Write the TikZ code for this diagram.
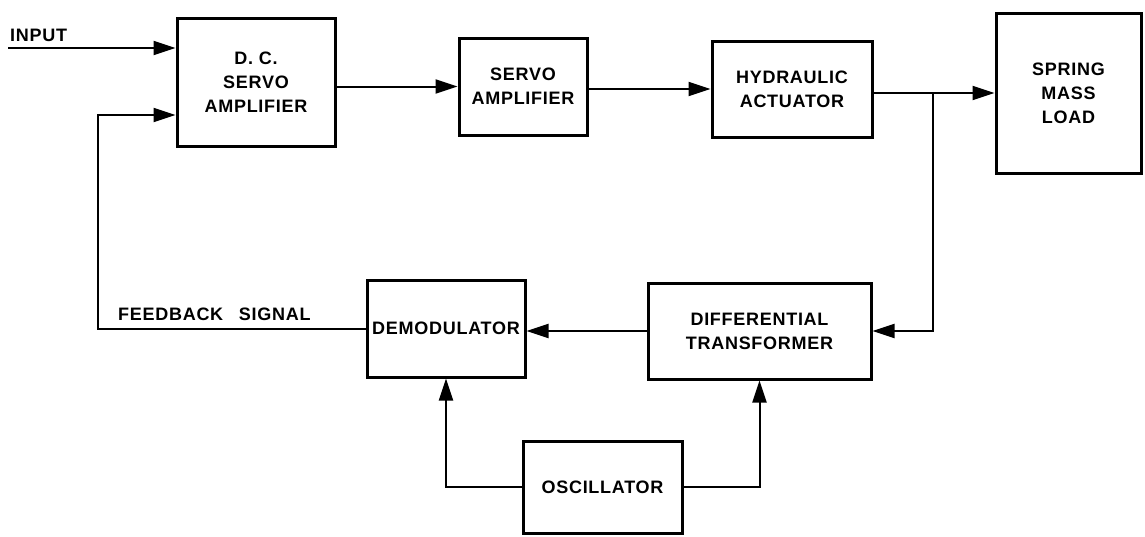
\documentclass[tikz,border=0pt]{standalone}
\usepackage{fontspec}
\setmainfont{Liberation Sans}[LetterSpace=4]
\usetikzlibrary{arrows.meta}
\tikzset{
  blk/.style={draw, line width=3pt, align=center, inner sep=0pt,
    font=\bfseries\fontsize{18}{24}\selectfont},
  arr/.style={line width=2pt, -{Triangle[length=22pt,width=14pt]}},
  lbl/.style={font=\bfseries\fontsize{18}{24}\selectfont, inner sep=0pt}
}
\begin{document}
\begin{tikzpicture}[x=1pt,y=-1pt]
\useasboundingbox (0,0) rectangle (1145,536);
\node[blk, minimum width=158pt, minimum height=128pt] (dc) at (256,82) {D. C.\\SERVO\\AMPLIFIER};
\node[blk, minimum width=128pt, minimum height=97pt] (servo) at (523,86.5) {SERVO\\AMPLIFIER};
\node[blk, minimum width=160pt, minimum height=96pt] (hyd) at (792,89) {HYDRAULIC\\ACTUATOR};
\node[blk, minimum width=145pt, minimum height=160pt] (spring) at (1068.5,93) {SPRING\\MASS\\LOAD};
\node[blk, minimum width=158pt, minimum height=97pt] (demod) at (446,328.5) {DEMODULATOR};
\node[blk, minimum width=223pt, minimum height=96pt] (diff) at (759.5,331) {DIFFERENTIAL\\TRANSFORMER};
\node[blk, minimum width=159pt, minimum height=92pt] (osc) at (602.5,487) {OSCILLATOR};

\node[lbl, anchor=west] (inlbl) at (10,35) {INPUT};
\node[lbl, anchor=west] (fblbl) at (118,314) {FEEDBACK\hspace{10pt} SIGNAL};

\coordinate (in) at (8,48);
\coordinate (fbc) at (98,115);
\coordinate (j) at (933,93);

\draw[arr] (in) -- (in -| dc.west);
\draw[arr] (demod.west) -| (fbc) -- (fbc -| dc.west);
\draw[arr] (dc.east |- servo.west) -- (servo.west);
\draw[arr] (servo.east |- hyd.west) -- (hyd.west);
\draw[arr] (hyd.east |- spring.west) -- (spring.west);
\draw[arr] (j) |- (diff.east);
\draw[arr] (diff.west) -- (diff.west -| demod.east);
\draw[arr] (osc.west) -| (demod.south);
\draw[arr] (osc.east) -| (diff.south);
\end{tikzpicture}
\end{document}
